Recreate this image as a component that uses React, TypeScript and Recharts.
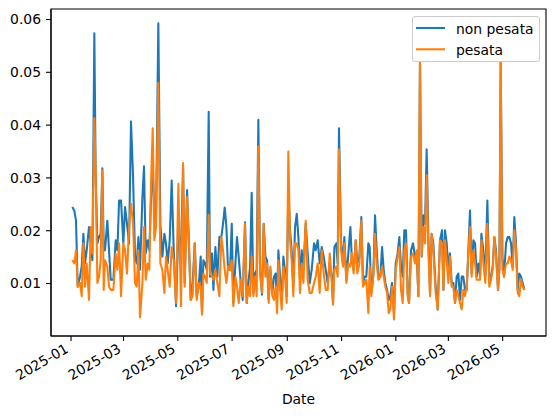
import { LineChart, Line, XAxis, YAxis, Legend, ReferenceArea } from 'recharts'

// days counted from 2025-01-01
const days = [
  1.5, 3.7, 5.6, 7.5, 10.1, 12, 13.9, 15.7, 17.6, 20.2, 22.1, 24, 26.2, 27.7, 29.6, 31.5, 33.3, 35.2, 36.7, 38.2,
  40.8, 42.7, 44.6, 47.6, 50.2, 52.1, 54, 56.2, 58.8, 60.7, 62.9, 65.2, 67.4, 69.7, 71.9, 73.8, 75.7, 77.5, 80.2, 82,
  83.9, 86.1, 88, 89.9, 91.8, 93.6, 95.5, 98.1, 100.4, 102.6, 104.9, 106.7, 108.6, 110.9, 113.1, 115.4, 118, 120.6, 123.6,
  125.9, 127.7, 130.4, 132.6, 134.5, 136.7, 139, 141.2, 143.5, 145.7, 147.2, 148.7, 150.6, 152.5, 154.7, 156.2, 158.5, 160,
  162.2, 164.4, 166.7, 168.9, 170.8, 172.7, 174.6, 176.4, 178.7, 180.6, 182.4, 184.7, 186.5, 188.4, 190.7, 192.9, 195.5,
  197.4, 199.3, 201.2, 203, 204.9, 206.8, 208.6, 210.5, 212.4, 214.6, 216.5, 218.4, 220.3, 222.1, 224, 226.2, 228.1, 230,
  231.5, 233, 234.9, 236.7, 238.6, 240.8, 242.3, 244.2, 246.1, 247.9, 249.8, 251.7, 253.6, 255.5,
  257.3, 259.2, 261.1, 263.7, 265.9, 268.2, 270.4, 273.1, 274.9, 277.2, 279.4, 281.7, 283.9, 286.2, 288.4, 290.7, 292.9,
  294.4, 295.9, 298.1, 299.6, 301.1, 303.4, 305.6, 307.1, 309.4, 311.6, 313.9, 315.4, 317.6, 319.9, 321.7, 324, 326.2,
  328.1, 330, 331.8, 334.1, 335.6, 337.4, 339.7, 341.6, 343.5, 345.3, 347.6, 349.5, 351.3, 353.2, 355.1, 357, 358.8,
  360.7, 362.9, 364.8, 367, 368.9, 370.8, 372.7, 374.5, 376.4, 378.3, 379.8, 382, 384.3,
  386.5, 388.4, 390.3, 392.1, 394, 395.9, 397.8, 399.6, 401.5, 403.4, 405.2, 407.1, 409.7, 412, 414.6, 416.9, 418.4,
  420.2, 422.1, 424, 425.8, 427.7, 429.6, 431.5, 433.3, 435.2, 437.1, 439, 440.8, 442.7, 444.6, 446.4, 448.3, 450.2,
  452.1, 454, 455.8, 457.7, 459.6, 461.1, 463.3, 465.5, 467.8, 470, 471.9, 473.8, 475.7, 477.5, 479.8, 481.3, 482.8,
  484.7, 486.5, 488.8, 490.7, 492.5, 494.4, 496.3, 498.1, 500, 501.9, 503.7, 505.6, 507.5, 509.4,
]

const nonPesata = [
  0.0245, 0.0238, 0.0219, 0.0094, 0.0113, 0.0132, 0.0194, 0.0138, 0.0163, 0.0207, 0.0176, 0.0144, 0.0574, 0.0302, 0.0176, 0.0188, 0.0194, 0.0318, 0.0169, 0.0163,
  0.0219, 0.0163, 0.0107, 0.0107, 0.0182, 0.0163, 0.0257, 0.0257, 0.0176, 0.0245, 0.0213, 0.0176, 0.0407, 0.0302, 0.0151, 0.0138, 0.0188, 0.0126, 0.0263, 0.0322,
  0.0157, 0.0182, 0.0163, 0.0263, 0.0322, 0.0226, 0.0219, 0.0593, 0.0213, 0.0151, 0.0194, 0.0176, 0.0138, 0.0182, 0.0295, 0.0163, 0.0057, 0.0200, 0.0163,
  0.0321, 0.0101, 0.0277, 0.0163, 0.0069, 0.0101, 0.0176, 0.0076, 0.0094, 0.0151, 0.0044, 0.0144, 0.0138, 0.0126, 0.0425, 0.0113, 0.0157, 0.0088,
  0.0169, 0.0113, 0.0188, 0.0188, 0.0213, 0.0244, 0.0207, 0.0126, 0.0126, 0.0213, 0.0063, 0.0138, 0.0188, 0.0151, 0.0101, 0.0069, 0.0216,
  0.0063, 0.0101, 0.0132, 0.0272, 0.0082, 0.0119, 0.0126, 0.0410, 0.0126, 0.0079, 0.0213, 0.0151, 0.0144, 0.0069, 0.0126, 0.0082, 0.0113, 0.0119,
  0.0063, 0.0163, 0.0113, 0.0063, 0.0151, 0.0119, 0.0076, 0.0277, 0.0201, 0.0163, 0.0094, 0.0207, 0.0232, 0.0188,
  0.0107, 0.0163, 0.0126, 0.0213, 0.0157, 0.0101, 0.0126, 0.0176, 0.0163, 0.0182, 0.0138, 0.0169, 0.0151, 0.0126, 0.0101, 0.0138, 0.0113,
  0.0063, 0.0169, 0.0176, 0.0138, 0.0394, 0.0182, 0.0138, 0.0188, 0.0107, 0.0157, 0.0207, 0.0151, 0.0126, 0.0182, 0.0138, 0.0151, 0.0226,
  0.0101, 0.0113, 0.0113, 0.0176, 0.0169, 0.0082, 0.0119, 0.0229, 0.0163, 0.0113, 0.0113, 0.0169, 0.0126, 0.0101, 0.0088, 0.0069, 0.0076,
  0.0101, 0.0044, 0.0138, 0.0157, 0.0188, 0.0132, 0.0113, 0.0201, 0.0201, 0.0082, 0.0063, 0.0163, 0.0176,
  0.0151, 0.0157, 0.0076, 0.0520, 0.0151, 0.0229, 0.0213, 0.0354, 0.0188, 0.0082, 0.0194, 0.0176, 0.0094, 0.0051, 0.0182, 0.0201, 0.0088,
  0.0201, 0.0176, 0.0126, 0.0157, 0.0101, 0.0101, 0.0063, 0.0113, 0.0119, 0.0069, 0.0113, 0.0113, 0.0088, 0.0088, 0.0157, 0.0238, 0.0119,
  0.0182, 0.0176, 0.0113, 0.0138, 0.0113, 0.0194, 0.0163, 0.0113, 0.0257, 0.0101, 0.0113, 0.0132, 0.0188, 0.0163, 0.0088, 0.0126, 0.0520,
  0.0151, 0.0113, 0.0176, 0.0188, 0.0188, 0.0176, 0.0132, 0.0226, 0.0176, 0.0088, 0.0119, 0.0113, 0.0101, 0.0088,
]

const pesata = [
  0.0144, 0.0138, 0.0163, 0.0094, 0.0101, 0.0076, 0.0176, 0.0094, 0.0138, 0.0069, 0.0207, 0.0157, 0.0413, 0.0308, 0.0101, 0.0113, 0.0144, 0.0315, 0.0088, 0.0144,
  0.0132, 0.0094, 0.0088, 0.0088, 0.0157, 0.0126, 0.0176, 0.0076, 0.0176, 0.0163, 0.0119, 0.0207, 0.0251, 0.0213, 0.0101, 0.0094, 0.0163, 0.0036, 0.0101, 0.0207,
  0.0107, 0.0138, 0.0126, 0.0289, 0.0394, 0.0182, 0.0207, 0.0480, 0.0138, 0.0126, 0.0082, 0.0151, 0.0126, 0.0094, 0.0169, 0.0144, 0.0063, 0.0289, 0.0057,
  0.0328, 0.0094, 0.0264, 0.0176, 0.0069, 0.0076, 0.0176, 0.0069, 0.0101, 0.0094, 0.0041, 0.0119, 0.0113, 0.0101, 0.0230, 0.0119, 0.0113, 0.0107,
  0.0126, 0.0101, 0.0076, 0.0188, 0.0163, 0.0126, 0.0101, 0.0132, 0.0126, 0.0144, 0.0057, 0.0113, 0.0094, 0.0063, 0.0107, 0.0076, 0.0213,
  0.0063, 0.0094, 0.0076, 0.0151, 0.0076, 0.0113, 0.0076, 0.0360, 0.0119, 0.0082, 0.0213, 0.0113, 0.0138, 0.0063, 0.0132, 0.0076, 0.0069, 0.0094,
  0.0044, 0.0144, 0.0088, 0.0051, 0.0132, 0.0107, 0.0063, 0.0350, 0.0182, 0.0144, 0.0076, 0.0176, 0.0176, 0.0163,
  0.0082, 0.0138, 0.0101, 0.0219, 0.0107, 0.0082, 0.0082, 0.0101, 0.0113, 0.0138, 0.0082, 0.0163, 0.0119, 0.0088, 0.0088, 0.0157, 0.0107,
  0.0060, 0.0126, 0.0132, 0.0113, 0.0354, 0.0163, 0.0132, 0.0176, 0.0101, 0.0138, 0.0132, 0.0157, 0.0119, 0.0182, 0.0119, 0.0138, 0.0219,
  0.0094, 0.0101, 0.0107, 0.0044, 0.0132, 0.0076, 0.0113, 0.0194, 0.0138, 0.0107, 0.0113, 0.0132, 0.0113, 0.0094, 0.0082, 0.0044, 0.0051,
  0.0094, 0.0032, 0.0126, 0.0151, 0.0169, 0.0088, 0.0063, 0.0163, 0.0176, 0.0076, 0.0063, 0.0151, 0.0157,
  0.0138, 0.0163, 0.0076, 0.0520, 0.0151, 0.0207, 0.0176, 0.0305, 0.0163, 0.0076, 0.0194, 0.0163, 0.0082, 0.0051, 0.0182, 0.0176, 0.0088,
  0.0182, 0.0144, 0.0101, 0.0151, 0.0094, 0.0094, 0.0063, 0.0088, 0.0076, 0.0063, 0.0051, 0.0088, 0.0076, 0.0094, 0.0157, 0.0207, 0.0113,
  0.0163, 0.0138, 0.0107, 0.0107, 0.0107, 0.0182, 0.0138, 0.0101, 0.0213, 0.0094, 0.0107, 0.0126, 0.0188, 0.0151, 0.0088, 0.0126, 0.0520,
  0.0126, 0.0113, 0.0138, 0.0138, 0.0151, 0.0144, 0.0126, 0.0201, 0.0163, 0.0082, 0.0076, 0.0107, 0.0094, 0.0088,
]

const tickDays = [0, 59, 120, 181, 243, 304, 365, 424, 485]
const tickLabels = ['2025-01', '2025-03', '2025-05', '2025-07', '2025-09', '2025-11', '2026-01', '2026-03', '2026-05']
const yTicks = [0.01, 0.02, 0.03, 0.04, 0.05, 0.06]

const data = days.map((day, i) => ({ day, nonPesata: nonPesata[i], pesata: pesata[i] }))

const FONT = 'DejaVu Sans'
const X_DOMAIN: [number, number] = [-22.5, 533.7]
const Y_DOMAIN: [number, number] = [0.00006, 0.06199]

const DateTick = (props: any) => {
  const { x, y, payload } = props
  const label = tickLabels[tickDays.indexOf(payload.value)]
  const ax = x - 1.5
  const ay = y + 10.5
  return (
    <text x={ax} y={ay} textAnchor="end" fontSize={13.9} fontFamily={FONT} fill="#000"
      transform={`rotate(-30, ${ax}, ${ay})`}>
      {label}
    </text>
  )
}

const LegendBox = () => (
  <div style={{ width: 128, height: 46, boxSizing: 'border-box', border: '1px solid #cccccc',
    borderRadius: 3, background: 'rgba(255,255,255,0.8)' }}>
    <svg width={126} height={44} style={{ display: 'block' }}>
      <line x1={3} x2={32} y1={11} y2={11} stroke="#1f77b4" strokeWidth={2.08} />
      <line x1={3} x2={32} y1={32.3} y2={32.3} stroke="#ff7f0e" strokeWidth={2.08} />
      <text x={43} y={17.3} fontSize={13.9} fontFamily={FONT} fill="#000">non pesata</text>
      <text x={43} y={38.3} fontSize={13.9} fontFamily={FONT} fill="#000">pesata</text>
    </svg>
  </div>
)

export default function App() {
  return (
    <>
      <style>{'body{margin:0;background:#fff}'}</style>
      <LineChart width={556} height={416} data={data}
        margin={{ top: 9, right: 10, left: 0, bottom: 0 }}
        style={{ fontFamily: FONT }}>
        <XAxis dataKey="day" type="number" domain={X_DOMAIN} allowDataOverflow ticks={tickDays}
          height={80} tickSize={5} tickMargin={0} interval={0}
          axisLine={{ stroke: '#000', strokeWidth: 1.1 }} tickLine={{ stroke: '#000', strokeWidth: 1.1 }}
          tick={<DateTick />}
          label={{ value: 'Date', position: 'insideBottom', offset: 12, fill: '#000', fontSize: 13.9, fontFamily: FONT }} />
        <YAxis type="number" domain={Y_DOMAIN} allowDataOverflow ticks={yTicks} width={51}
          tickSize={5} tickMargin={5} interval={0}
          tickFormatter={(v: number) => v.toFixed(2)}
          axisLine={{ stroke: '#000', strokeWidth: 1.1 }} tickLine={{ stroke: '#000', strokeWidth: 1.1 }}
          tick={{ fill: '#000', fontSize: 13.9, fontFamily: FONT }} />
        <Line type="linear" dataKey="nonPesata" name="non pesata" stroke="#1f77b4" strokeWidth={2.08}
          strokeLinejoin="round" dot={false} activeDot={false} isAnimationActive={false} />
        <Line type="linear" dataKey="pesata" name="pesata" stroke="#ff7f0e" strokeWidth={2.08}
          strokeLinejoin="round" dot={false} activeDot={false} isAnimationActive={false} />
        <ReferenceArea x1={X_DOMAIN[0]} x2={X_DOMAIN[1]} y1={Y_DOMAIN[0]} y2={Y_DOMAIN[1]}
          fill="none" fillOpacity={0} stroke="#000" strokeWidth={1.1} ifOverflow="visible" />
        <Legend layout="vertical" align="center" verticalAlign="middle" content={<LegendBox />}
          wrapperStyle={{ top: 16, left: 412, width: 128, height: 46 }} />
      </LineChart>
    </>
  )
}
